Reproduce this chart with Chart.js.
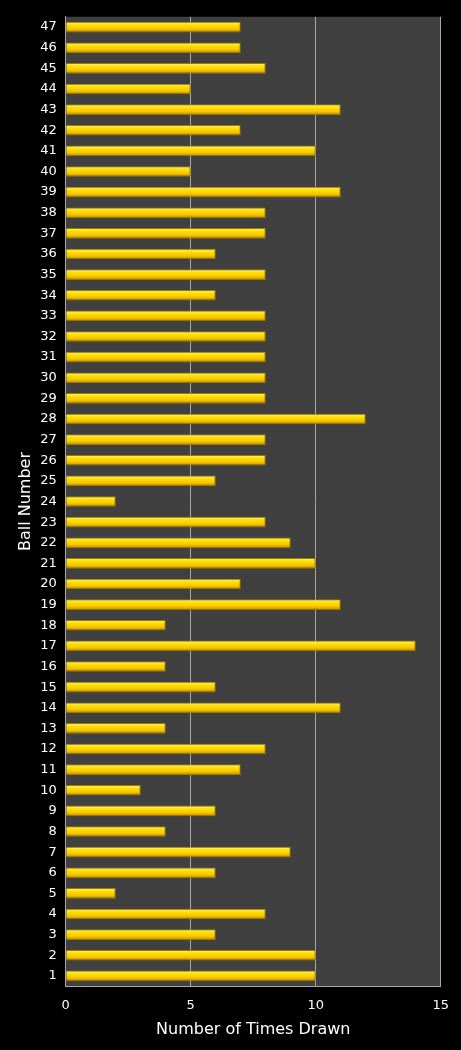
<!DOCTYPE html>
<html>
<head>
<meta charset="utf-8">
<script src="https://cdn.jsdelivr.net/npm/chart.js@4.4.1/dist/chart.umd.min.js"></script>
<style>
  html, body { margin: 0; padding: 0; background: #000; }
  #wrap { width: 461px; height: 1050px; }
</style>
</head>
<body>
<div id="wrap"><canvas id="ballChart"></canvas></div>
<script>
// ball numbers, top of chart first
const balls = [47, 46, 45, 44, 43, 42, 41, 40, 39, 38, 37, 36, 35, 34, 33, 32,
    31, 30, 29, 28, 27, 26, 25, 24, 23, 22, 21, 20, 19, 18, 17, 16,
    15, 14, 13, 12, 11, 10, 9, 8, 7, 6, 5, 4, 3, 2, 1];
const timesDrawn = [7, 7, 8, 5, 11, 7, 10, 5, 11, 8, 8, 6, 8, 6, 8, 8,
    8, 8, 8, 12, 8, 8, 6, 2, 8, 9, 10, 7, 11, 4, 14, 4,
    6, 11, 4, 8, 7, 3, 6, 4, 9, 6, 2, 8, 6, 10, 10];
const xTicks = [0, 5, 10, 15];

// dark grey plot background
const plotBg = {
    id: 'plotBg',
    beforeDraw(chart) {
        const a = chart.chartArea;
        const ctx = chart.ctx;
        ctx.save();
        ctx.fillStyle = '#404040';
        ctx.fillRect(a.left, a.top, a.right - a.left, a.bottom - a.top);
        ctx.restore();
    }
};

function barFill(context) {
    const chart = context.chart;
    if (!chart.chartArea) return '#f5c800';
    const y = chart.scales.y.getPixelForValue(context.dataIndex);
    const g = chart.ctx.createLinearGradient(0, y - 5, 0, y + 5);
    g.addColorStop(0, '#fff27a');
    g.addColorStop(0.3, '#ffe000');
    g.addColorStop(0.7, '#f5c400');
    g.addColorStop(1, '#b88a00');
    return g;
}

const ctx = document.getElementById('ballChart').getContext('2d');
new Chart(ctx, {
    type: 'bar',
    data: {
        labels: balls,
        datasets: [{
            data: timesDrawn,
            backgroundColor: barFill,
            borderColor: '#a07800',
            borderWidth: 1,
            borderSkipped: 'start',
            barPercentage: 0.52,
            categoryPercentage: 1.0
        }]
    },
    plugins: [plotBg],
    options: {
        indexAxis: 'y',
        responsive: true,
        maintainAspectRatio: false,
        animation: false,
        layout: { padding: { top: 14, right: 17, bottom: 11, left: 16 } },
        plugins: {
            legend: { display: false },
            tooltip: { enabled: false }
        },
        scales: {
            x: {
                min: 0,
                max: 15,
                afterBuildTicks: axis => { axis.ticks = xTicks.map(v => ({ value: v })); },
                grid: { color: '#a8a8a8', lineWidth: 1, drawTicks: false },
                border: { color: '#a8a8a8' },
                ticks: { color: '#fff', font: { family: 'DejaVu Sans', size: 13 }, padding: 12 },
                title: {
                    display: true,
                    text: 'Number of Times Drawn',
                    color: '#fff',
                    font: { family: 'DejaVu Sans', size: 16 },
                    padding: { top: -6, bottom: 0 }
                }
            },
            y: {
                grid: { display: false, drawTicks: false },
                border: { color: '#a8a8a8' },
                ticks: { color: '#fff', font: { family: 'DejaVu Sans', size: 13 }, padding: 9, autoSkip: false },
                title: {
                    display: true,
                    text: 'Ball Number',
                    color: '#fff',
                    font: { family: 'DejaVu Sans', size: 16 },
                    padding: { top: 0, bottom: -4 }
                }
            }
        }
    }
});
</script>
</body>
</html>
